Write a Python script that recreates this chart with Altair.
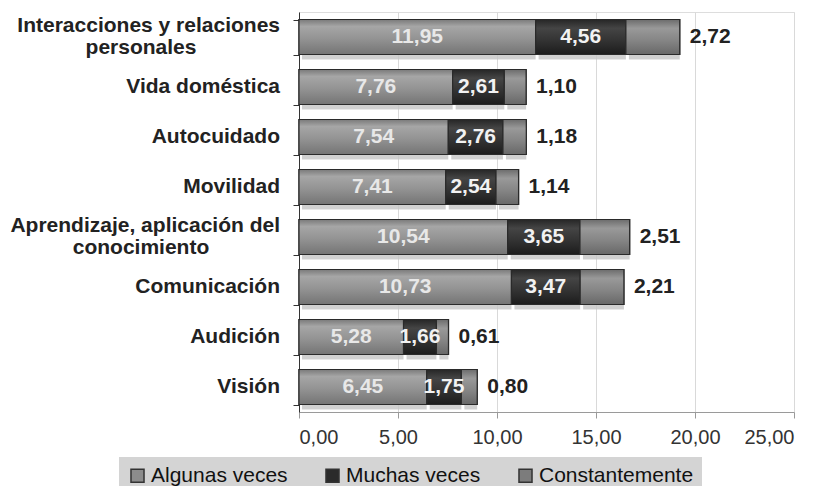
import altair as alt
import pandas as pd

cats = ["Interacciones y relaciones personales", "Vida doméstica", "Autocuidado", "Movilidad",
        "Aprendizaje, aplicación del conocimiento", "Comunicación", "Audición", "Visión"]
line1 = ["Interacciones y relaciones", "Vida doméstica", "Autocuidado", "Movilidad",
         "Aprendizaje, aplicación del", "Comunicación", "Audición", "Visión"]
line2 = ["personales", "", "", "", "conocimiento", "", "", ""]
series = ["Algunas veces", "Muchas veces", "Constantemente"]
algunas = [11.95, 7.76, 7.54, 7.41, 10.54, 10.73, 5.28, 6.45]
muchas = [4.56, 2.61, 2.76, 2.54, 3.65, 3.47, 1.66, 1.75]
constante = [2.72, 1.10, 1.18, 1.14, 2.51, 2.21, 0.61, 0.80]
ticks = [0, 5, 10, 15, 20, 25]

rows = []
for i, c in enumerate(cats):
    for o, (s, vals) in enumerate(zip(series, [algunas, muchas, constante])):
        rows.append({"cat": c, "serie": s, "value": vals[i], "order": o})
df = pd.DataFrame(rows)
labdf = pd.DataFrame({"cat": cats, "l1": line1, "l2": line2})

FONT = "Liberation Sans"

yenc = alt.Y("cat:N", sort=cats,
             scale=alt.Scale(paddingInner=0.3, paddingOuter=0.15),
             axis=alt.Axis(labels=False, title=None, domainColor="#333333", tickColor="#333333",
                           tickSize=6, tickBand="extent", grid=False))
xaxis = alt.Axis(values=ticks, labelExpr="replace(format(datum.value,'.2f'),'.',',')",
                 grid=True, gridColor="#d9d9d9", domainColor="#9a9a9a", tickColor="#9a9a9a",
                 tickSize=6, labelFontSize=20, labelColor="#333333", labelPadding=9, title=None,
                 labelFont=FONT)
xscale = alt.Scale(domain=[0, 25])

base = alt.Chart(df).transform_stack(
    stack="value", groupby=["cat"], as_=["x0", "x1"], sort=[alt.SortField("order")]
).transform_calculate(
    mid="(datum.x0 + datum.x1) / 2",
    lab="replace(format(datum.value, '.2f'), '.', ',')"
)

shadow = base.mark_bar(color="#c4c4c4", xOffset=3, yOffset=5, opacity=0.8).encode(
    x=alt.X("x0:Q", scale=xscale, axis=xaxis), x2="x1:Q", y=yenc)

solid = base.mark_bar(stroke="#2a2a2a", strokeWidth=1.2).encode(
    x=alt.X("x0:Q", scale=xscale, axis=xaxis), x2="x1:Q", y=yenc,
    color=alt.Color("serie:N",
                    scale=alt.Scale(domain=series, range=["#8c8c8c", "#2b2b2b", "#7c7c7c"]),
                    legend=alt.Legend(title=None, orient="none", legendX=-180, legendY=445,
                                      direction="horizontal", fillColor="#d4d4d4", padding=8,
                                      symbolType="square", symbolSize=170,
                                      symbolStrokeColor="#333333", symbolStrokeWidth=1.5,
                                      labelFontSize=21, labelColor="#111111", labelFont=FONT,
                                      columnPadding=34, labelOffset=3)))


def grad(stops):
    return alt.Gradient(gradient="linear", x1=0, x2=0, y1=0, y2=1,
                        stops=[alt.GradientStop(offset=o, color=c) for o, c in stops])


grads = {
    "Algunas veces": grad([(0, "#7a7a7a"), (0.2, "#a6a6a6"), (0.55, "#939393"), (1, "#747474")]),
    "Muchas veces": grad([(0, "#262626"), (0.25, "#454545"), (0.6, "#333333"), (1, "#1c1c1c")]),
    "Constantemente": grad([(0, "#6c6c6c"), (0.25, "#999999"), (0.6, "#858585"), (1, "#686868")]),
}
glayers = []
for s in series:
    glayers.append(base.transform_filter(alt.datum.serie == s).mark_bar(
        color=grads[s], stroke="#2a2a2a", strokeWidth=1.2).encode(
        x=alt.X("x0:Q", scale=xscale, axis=xaxis), x2="x1:Q", y=yenc))

t_in1 = base.transform_filter(alt.datum.serie == series[0]).mark_text(
    font=FONT, fontSize=21, fontWeight="bold", color="#e8e8e8", baseline="middle").encode(
    x=alt.X("mid:Q", scale=xscale, axis=xaxis), y=yenc, text="lab:N")
t_in2 = base.transform_filter(alt.datum.serie == series[1]).mark_text(
    font=FONT, fontSize=21, fontWeight="bold", color="#f2f2f2", baseline="middle").encode(
    x=alt.X("mid:Q", scale=xscale, axis=xaxis), y=yenc, text="lab:N")
t_out = base.transform_filter(alt.datum.serie == series[2]).mark_text(
    font=FONT, fontSize=21, fontWeight="bold", color="#222222", baseline="middle",
    align="left", dx=10).encode(
    x=alt.X("x1:Q", scale=xscale, axis=xaxis), y=yenc, text="lab:N")

lab = alt.Chart(labdf)
ylab_single = lab.transform_filter("datum.l2 == ''").mark_text(
    font=FONT, fontSize=21, fontWeight="bold", color="#222222", align="right",
    baseline="middle").encode(x=alt.value(-19), y=yenc, text="l1:N")
ylab_top = lab.transform_filter("datum.l2 != ''").mark_text(
    font=FONT, fontSize=21, fontWeight="bold", color="#222222", align="right",
    baseline="middle", dy=-11).encode(x=alt.value(-19), y=yenc, text="l1:N")
ylab_bot = lab.transform_filter("datum.l2 != ''").mark_text(
    font=FONT, fontSize=21, fontWeight="bold", color="#222222", align="center",
    baseline="middle", dy=11).encode(x=alt.value(-158), y=yenc, text="l2:N")

chart = alt.layer(shadow, solid, *glayers, t_in1, t_in2, t_out, ylab_single, ylab_top, ylab_bot).properties(
    width=495, height=400,
    padding={"left": 291, "top": 4, "right": 22, "bottom": 74},
    autosize=alt.AutoSizeParams(type="none"),
).configure_view(stroke=None).configure(font=FONT)

chart.save("out.html", embed_options={"renderer": "svg", "actions": False})
